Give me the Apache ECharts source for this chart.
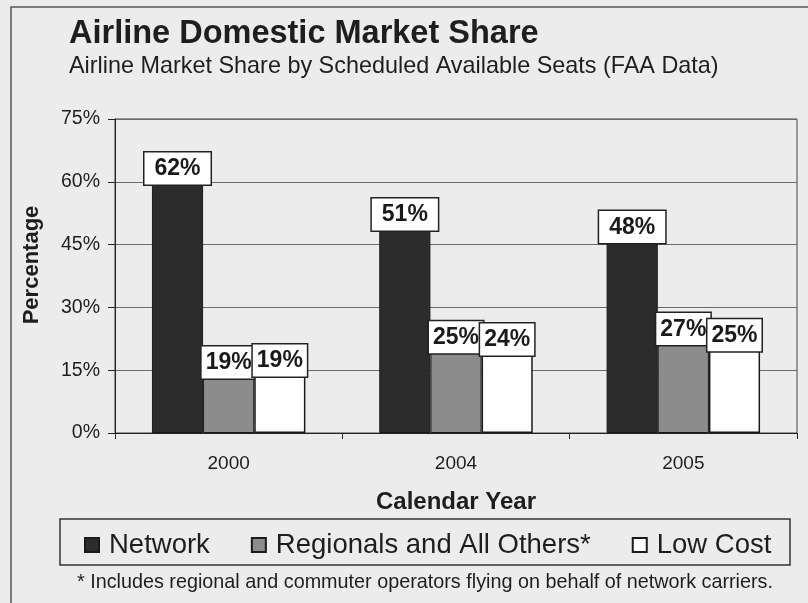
<!DOCTYPE html>
<html>
<head>
<meta charset="utf-8">
<script src="https://cdn.jsdelivr.net/npm/echarts@6/dist/echarts.min.js"></script>
<style>
html,body{margin:0;padding:0;background:#ececec;}
#chart{width:808px;height:603px;}
</style>
</head>
<body>
<div id="chart"></div>
<script>
// ---- data ----
const years = ['2000', '2004', '2005'];
const seriesNames = ['Network', 'Regionals and All Others*', 'Low Cost'];
const networkValues = [62, 51, 48];
const regionalValues = [19, 25, 27];
const lowCostValues = [19, 24, 25];
const yTicks = [0, 15, 30, 45, 60, 75];

const FONT = '"Liberation Sans", Arial, sans-serif';
const chart = echarts.init(document.getElementById('chart'), null, {renderer: 'canvas'});

function labelFor(offsetY, padX) {
  return {
    show: true,
    position: 'top',
    distance: 0,
    offset: [0, offsetY],
    formatter: '{c}%',
    fontFamily: FONT,
    fontSize: 23,
    fontWeight: 'bold',
    color: '#1a1a1a',
    backgroundColor: '#ffffff',
    borderColor: '#222',
    borderWidth: 1.5,
    padding: [5, padX, 4, padX]
  };
}

const option = {
  backgroundColor: '#ececec',
  animation: false,
  title: {
    text: 'Airline Domestic Market Share',
    subtext: 'Airline Market Share by Scheduled Available Seats (FAA Data)',
    left: 64,
    top: 13,
    itemGap: 4,
    textStyle: {fontFamily: FONT, fontSize: 32.5, fontWeight: 'bold', color: '#1e1e1e'},
    subtextStyle: {fontFamily: FONT, fontSize: 23.4, color: '#1e1e1e'}
  },
  graphic: [
    {type: 'rect', shape: {x: 11, y: 7, width: 830, height: 640},
     style: {fill: 'none', stroke: '#555', lineWidth: 1.5}, silent: true},
    {type: 'rect', shape: {x: 60, y: 519, width: 730, height: 46},
     style: {fill: 'none', stroke: '#333', lineWidth: 1.5}, silent: true},
    {type: 'text', left: 77, top: 573,
     style: {text: '* Includes regional and commuter operators flying on behalf of network carriers.',
             fontFamily: FONT, fontSize: 19.8, fill: '#1e1e1e'}},
    {type: 'text', x: 32, y: 265, rotation: Math.PI / 2,
     style: {text: 'Percentage', fontFamily: FONT, fontSize: 22, fontWeight: 'bold', fill: '#1e1e1e',
             textAlign: 'center', textVerticalAlign: 'middle'}}
  ],
  legend: {
    left: 79,
    top: 526,
    icon: 'rect',
    itemWidth: 14,
    itemHeight: 14,
    itemGap: 41,
    textStyle: {fontFamily: FONT, fontSize: 27.5, color: '#1e1e1e', padding: [0, 0, 0, 5]},
    data: seriesNames
  },
  grid: {
    left: 115, right: 11, top: 119, bottom: 170,
    show: true, borderColor: '#444', borderWidth: 1, backgroundColor: '#ececec'
  },
  xAxis: {
    type: 'category',
    data: years,
    name: 'Calendar Year',
    nameLocation: 'middle',
    nameGap: 57,
    nameTextStyle: {fontFamily: FONT, fontSize: 24, fontWeight: 'bold', color: '#1e1e1e'},
    axisLine: {lineStyle: {color: '#222', width: 1}},
    axisTick: {show: true, length: 6, lineStyle: {color: '#222'}},
    axisLabel: {fontFamily: FONT, fontSize: 19, color: '#1e1e1e', margin: 21}
  },
  yAxis: {
    type: 'value',
    min: yTicks[0],
    max: yTicks[yTicks.length - 1],
    interval: yTicks[1] - yTicks[0],
    axisLine: {show: true, lineStyle: {color: '#222', width: 1}},
    axisTick: {show: true, length: 7, lineStyle: {color: '#222'}},
    axisLabel: {fontFamily: FONT, fontSize: 19.5, color: '#1e1e1e', margin: 15, formatter: '{value}%'},
    splitLine: {show: true, lineStyle: {color: '#6a6a6a', width: 1}}
  },
  series: [
    {
      name: seriesNames[0], type: 'bar', data: networkValues,
      barGap: '0%', barCategoryGap: '32.5%',
      itemStyle: {color: '#2c2c2c', borderColor: '#1a1a1a', borderWidth: 1},
      label: labelFor(11, 10), z: 2
    },
    {
      name: seriesNames[1], type: 'bar', data: regionalValues,
      barGap: '0%', barCategoryGap: '32.5%',
      itemStyle: {color: '#8c8c8c', borderColor: '#1a1a1a', borderWidth: 1},
      label: labelFor(25, 4), z: 3
    },
    {
      name: seriesNames[2], type: 'bar', data: lowCostValues,
      barGap: '0%', barCategoryGap: '32.5%',
      itemStyle: {color: '#ffffff', borderColor: '#1a1a1a', borderWidth: 1.5},
      label: labelFor(23, 4), z: 4
    }
  ]
};
chart.setOption(option);
</script>
</body>
</html>
